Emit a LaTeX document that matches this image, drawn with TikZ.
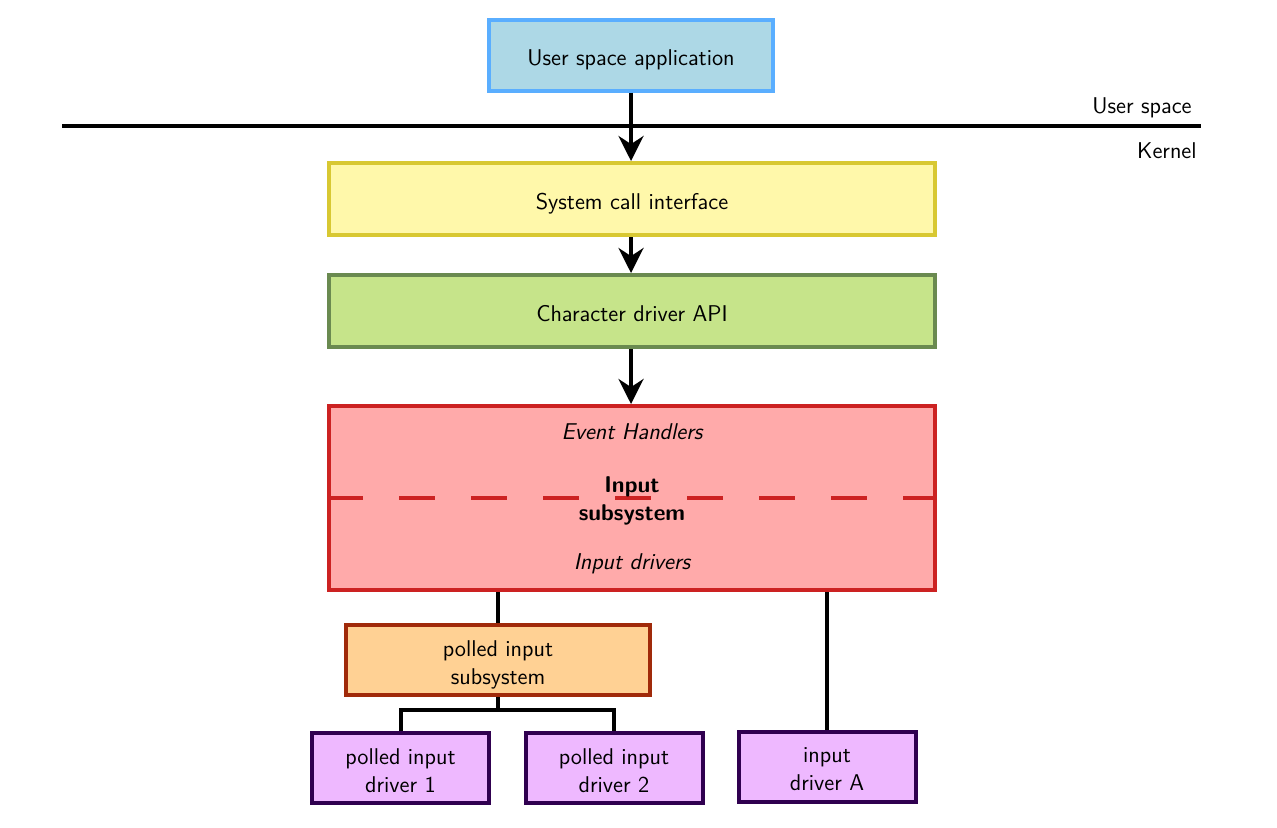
\documentclass[tikz,border=0pt]{standalone}
\usetikzlibrary{arrows.meta,positioning}
\newcommand\lowtext[1]{\raisebox{-2.2pt}[\height][\depth]{\begin{tabular}{@{}c@{}}#1\end{tabular}}}
\begin{document}
\begin{tikzpicture}[x=0.5pt,y=-0.5pt,
  every node/.style={font=\sffamily\fontsize{11.4}{14}\selectfont},
  box/.style={draw, line width=2pt, inner sep=0pt, align=center},
  conn/.style={line width=2pt},
  arr/.style={line width=2pt, -{Stealth[length=12.5pt,width=12.5pt]}},
]
\useasboundingbox (0,0) rectangle (1277,827);
\definecolor{appfill}{HTML}{ADD8E6}\definecolor{appdraw}{HTML}{5AAEFF}
\definecolor{sysfill}{HTML}{FFF8AA}\definecolor{sysdraw}{HTML}{D8C832}
\definecolor{chrfill}{HTML}{C6E48A}\definecolor{chrdraw}{HTML}{6A8A50}
\definecolor{inpfill}{HTML}{FFAAAA}\definecolor{inpdraw}{HTML}{CC2222}
\definecolor{polfill}{HTML}{FFD194}\definecolor{poldraw}{HTML}{A02A0A}
\definecolor{drvfill}{HTML}{EEB8FF}\definecolor{drvdraw}{HTML}{300050}

\node[box, fill=appfill, draw=appdraw, minimum width=142pt, minimum height=35.5pt] (app) at (631,55) {\lowtext{User space application}};
\node[box, fill=sysfill, draw=sysdraw, minimum width=303pt, minimum height=36pt] (sys) at (632,199) {\lowtext{System call interface}};
\node[box, fill=chrfill, draw=chrdraw, minimum width=303pt, minimum height=36pt] (chr) at (632,311) {\lowtext{Character driver API}};
\node[box, fill=inpfill, draw=inpdraw, minimum width=303pt, minimum height=92pt] (inp) at (632,498) {};
\draw[inpdraw, line width=2pt, dash pattern=on 18pt off 18pt] (inp.west) -- (inp.east);
\node (eh) at (632,432) {\itshape Event Handlers};
\node[align=center, font=\sffamily\bfseries\fontsize{11.4}{14}\selectfont] (isub) at (632,501) {Input\\subsystem};
\node (idr) at (632,564) {\itshape Input drivers};

\node[box, fill=polfill, draw=poldraw, minimum width=152pt, minimum height=35pt] (pol) at (498,660) {\lowtext{polled input\\subsystem}};
\node[box, fill=drvfill, draw=drvdraw, minimum width=88.5pt, minimum height=35pt] (d1) at (400.5,768) {\lowtext{polled input\\driver 1}};
\node[box, fill=drvfill, draw=drvdraw, minimum width=88.5pt, minimum height=35pt] (d2) at (614,768) {\lowtext{polled input\\driver 2}};
\node[box, fill=drvfill, draw=drvdraw, minimum width=88.5pt, minimum height=35pt] (da) at (827,766.5) {\lowtext{input\\driver A}};

\coordinate (lL) at (62,126);
\coordinate (lR) at (1201,126);
\draw[line width=2pt] (lL) -- (lR);
\node[anchor=base east, inner sep=0pt] (us) at (1192,113) {User space};
\node[anchor=base east, inner sep=0pt] (kn) at (1197,158) {Kernel};

\draw[arr] (app.south) -- (app.south |- sys.north);
\draw[arr] (app.south |- sys.south) -- (app.south |- chr.north);
\draw[arr] (app.south |- chr.south) -- (app.south |- inp.north);

\draw[conn] (inp.south -| pol.north) -- (pol.north);
\draw[conn] (inp.south -| da.north) -- (da.north);
\coordinate (j) at (498,710);
\draw[conn] (pol.south) -- (j);
\draw[conn] (d1.north) |- (j) -| (d2.north);
\end{tikzpicture}
\end{document}
